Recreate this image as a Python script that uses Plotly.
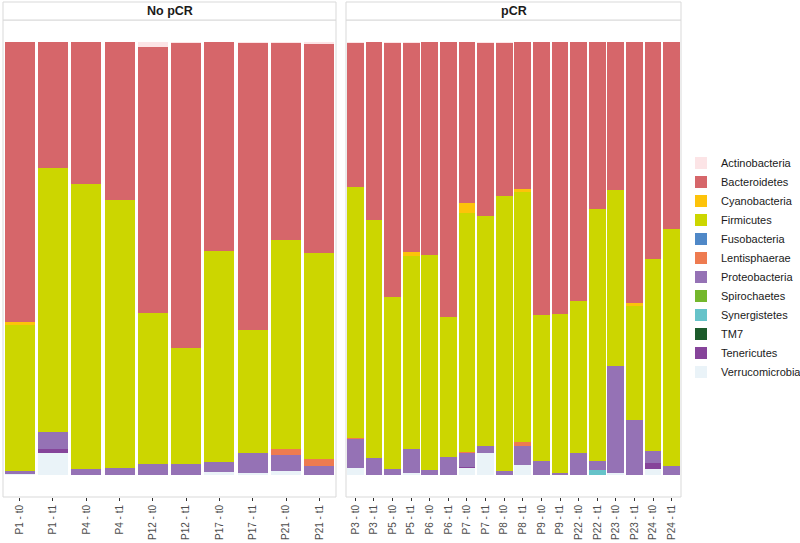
import plotly.graph_objects as go

# ---------------- data ----------------
samples_nopcr = ["P1 - t0", "P1 - t1", "P4 - t0", "P4 - t1", "P12 - t0", "P12 - t1",
                 "P17 - t0", "P17 - t1", "P21 - t0", "P21 - t1"]
samples_pcr = ["P3 - t0", "P3 - t1", "P5 - t0", "P5 - t1", "P6 - t0", "P6 - t1",
               "P7 - t0", "P7 - t1", "P8 - t0", "P8 - t1", "P9 - t0", "P9 - t1",
               "P22 - t0", "P22 - t1", "P23 - t0", "P23 - t1", "P24 - t0", "P24 - t1"]

phyla = ["Actinobacteria", "Bacteroidetes", "Cyanobacteria", "Firmicutes", "Fusobacteria",
         "Lentisphaerae", "Proteobacteria", "Spirochaetes", "Synergistetes", "TM7",
         "Tenericutes", "Verrucomicrobia"]

phylum_colors = ["#FCE4E6", "#D6666A", "#FDC30A", "#CCD600", "#4F88C7", "#EE7B50",
                 "#9572B5", "#74B72C", "#66C3C9", "#1C5B2B", "#86449A", "#EAF3F8"]

# relative abundance, No pCR samples (same order as samples_nopcr)
actinobacteria_nopcr  = [0.000, 0.000, 0.000, 0.000, 0.012, 0.002, 0.000, 0.002, 0.002, 0.005]
bacteroidetes_nopcr   = [0.647, 0.291, 0.328, 0.365, 0.614, 0.705, 0.483, 0.663, 0.455, 0.482]
cyanobacteria_nopcr   = [0.007, 0.000, 0.000, 0.000, 0.000, 0.000, 0.000, 0.000, 0.000, 0.000]
firmicutes_nopcr      = [0.335, 0.610, 0.658, 0.617, 0.349, 0.268, 0.487, 0.284, 0.483, 0.476]
fusobacteria_nopcr    = [0.000, 0.000, 0.000, 0.000, 0.000, 0.000, 0.000, 0.000, 0.000, 0.000]
lentisphaerae_nopcr   = [0.000, 0.000, 0.000, 0.000, 0.000, 0.000, 0.000, 0.000, 0.014, 0.016]
proteobacteria_nopcr  = [0.009, 0.039, 0.014, 0.018, 0.025, 0.025, 0.023, 0.046, 0.037, 0.021]
spirochaetes_nopcr    = [0.000, 0.000, 0.000, 0.000, 0.000, 0.000, 0.000, 0.000, 0.000, 0.000]
synergistetes_nopcr   = [0.000, 0.000, 0.000, 0.000, 0.000, 0.000, 0.000, 0.000, 0.000, 0.000]
tm7_nopcr             = [0.000, 0.000, 0.000, 0.000, 0.000, 0.000, 0.000, 0.000, 0.000, 0.000]
tenericutes_nopcr     = [0.000, 0.009, 0.000, 0.000, 0.000, 0.000, 0.000, 0.000, 0.000, 0.000]
verrucomicrobia_nopcr = [0.002, 0.051, 0.000, 0.000, 0.000, 0.000, 0.007, 0.005, 0.009, 0.000]

# relative abundance, pCR samples (same order as samples_pcr)
actinobacteria_pcr  = [0.002, 0.000, 0.002, 0.002, 0.000, 0.000, 0.000, 0.002, 0.002,
                       0.000, 0.000, 0.000, 0.000, 0.000, 0.000, 0.000, 0.000, 0.000]
bacteroidetes_pcr   = [0.333, 0.411, 0.587, 0.484, 0.492, 0.635, 0.372, 0.400, 0.354,
                       0.340, 0.631, 0.628, 0.598, 0.386, 0.342, 0.603, 0.501, 0.432]
cyanobacteria_pcr   = [0.000, 0.000, 0.000, 0.008, 0.000, 0.000, 0.023, 0.000, 0.000,
                       0.006, 0.000, 0.000, 0.000, 0.000, 0.000, 0.007, 0.000, 0.000]
firmicutes_pcr      = [0.580, 0.550, 0.397, 0.446, 0.496, 0.323, 0.552, 0.531, 0.633,
                       0.577, 0.337, 0.367, 0.351, 0.581, 0.406, 0.263, 0.444, 0.547]
fusobacteria_pcr    = [0.000] * 18
lentisphaerae_pcr   = [0.002, 0.000, 0.000, 0.000, 0.000, 0.000, 0.002, 0.000, 0.000,
                       0.010, 0.000, 0.000, 0.000, 0.000, 0.000, 0.000, 0.000, 0.000]
proteobacteria_pcr  = [0.067, 0.039, 0.014, 0.055, 0.012, 0.042, 0.032, 0.016, 0.011,
                       0.044, 0.032, 0.005, 0.051, 0.021, 0.247, 0.127, 0.027, 0.021]
spirochaetes_pcr    = [0.000] * 18
synergistetes_pcr   = [0.000, 0.000, 0.000, 0.000, 0.000, 0.000, 0.000, 0.000, 0.000,
                       0.000, 0.000, 0.000, 0.000, 0.012, 0.000, 0.000, 0.000, 0.000]
tm7_pcr             = [0.000] * 18
tenericutes_pcr     = [0.000, 0.000, 0.000, 0.000, 0.000, 0.000, 0.003, 0.000, 0.000,
                       0.000, 0.000, 0.000, 0.000, 0.000, 0.000, 0.000, 0.014, 0.000]
verrucomicrobia_pcr = [0.016, 0.000, 0.000, 0.005, 0.000, 0.000, 0.016, 0.051, 0.000,
                       0.023, 0.000, 0.000, 0.000, 0.000, 0.005, 0.000, 0.014, 0.000]

values_nopcr = [actinobacteria_nopcr, bacteroidetes_nopcr, cyanobacteria_nopcr, firmicutes_nopcr,
                fusobacteria_nopcr, lentisphaerae_nopcr, proteobacteria_nopcr, spirochaetes_nopcr,
                synergistetes_nopcr, tm7_nopcr, tenericutes_nopcr, verrucomicrobia_nopcr]
values_pcr = [actinobacteria_pcr, bacteroidetes_pcr, cyanobacteria_pcr, firmicutes_pcr,
              fusobacteria_pcr, lentisphaerae_pcr, proteobacteria_pcr, spirochaetes_pcr,
              synergistetes_pcr, tm7_pcr, tenericutes_pcr, verrucomicrobia_pcr]

panel_titles = ["No pCR", "pCR"]

# ---------------- figure ----------------
fig = go.Figure()

# plotly stacks in trace order (first = bottom); ggplot puts first level on top
for idx in reversed(range(len(phyla))):
    name = phyla[idx]
    col = phylum_colors[idx]
    fig.add_trace(go.Bar(x=samples_nopcr, y=values_nopcr[idx], name=name,
                         marker=dict(color=col, line=dict(width=0)),
                         legendgroup=name, showlegend=True, xaxis="x", yaxis="y"))
    fig.add_trace(go.Bar(x=samples_pcr, y=values_pcr[idx], name=name,
                         marker=dict(color=col, line=dict(width=0)),
                         legendgroup=name, showlegend=False, xaxis="x2", yaxis="y2"))

W, H = 800, 543
ml, mr, mt, mb = 3, 119, 20, 46
pw = W - ml - mr
ph = H - mt - mb
dom1 = [0, 333 / pw]
dom2 = [343 / pw, 1]

axis_common = dict(showgrid=False, zeroline=False, showline=False, automargin=False,
                   ticks="outside", ticklen=3, tickcolor="#333333", tickwidth=1,
                   tickangle=-90, tickfont=dict(size=10, color="#4D4D4D",
                                                family="Liberation Sans, Arial, sans-serif"),
                   type="category")
yaxis_common = dict(range=[-0.05, 1.05], showgrid=False, zeroline=False, showline=False,
                    showticklabels=False, ticks="", fixedrange=True, automargin=False)

strip_h = 18 / ph
shapes = []
annotations = []
for dom, title in zip([dom1, dom2], panel_titles):
    shapes.append(dict(type="rect", xref="paper", yref="paper", x0=dom[0], x1=dom[1],
                       y0=0, y1=1, line=dict(color="#D9D9D9", width=1),
                       fillcolor="rgba(0,0,0,0)", layer="above"))
    shapes.append(dict(type="rect", xref="paper", yref="paper", x0=dom[0], x1=dom[1],
                       y0=1, y1=1 + strip_h, line=dict(color="#D9D9D9", width=1),
                       fillcolor="white", layer="above"))
    annotations.append(dict(text="<b>" + title + "</b>", xref="paper", yref="paper",
                            x=(dom[0] + dom[1]) / 2, y=1 + strip_h / 2, showarrow=False,
                            xanchor="center", yanchor="middle",
                            font=dict(size=12.5, color="#1A1A1A",
                                      family="Liberation Sans, Arial, sans-serif")))

fig.update_layout(
    width=W, height=H,
    margin=dict(l=ml, r=mr, t=mt, b=mb, autoexpand=False),
    barmode="stack", bargap=0.1,
    plot_bgcolor="white", paper_bgcolor="white",
    xaxis=dict(domain=dom1, anchor="y", **axis_common),
    xaxis2=dict(domain=dom2, anchor="y2", **axis_common),
    yaxis=dict(domain=[0, 1], anchor="x", **yaxis_common),
    yaxis2=dict(domain=[0, 1], anchor="x2", **yaxis_common),
    shapes=shapes,
    annotations=annotations,
    legend=dict(traceorder="reversed", x=1.0, xanchor="left",
                y=0.481, yanchor="middle", bgcolor="rgba(0,0,0,0)",
                font=dict(size=11, color="#1A1A1A",
                          family="Liberation Sans, Arial, sans-serif"),
                itemclick=False, itemdoubleclick=False),
    showlegend=True,
    hovermode=False,
    font=dict(family="Liberation Sans, Arial, sans-serif"),
)

fig.write_html("out.html",
               config={"displayModeBar": False, "staticPlot": True},
               post_script="document.body.style.margin='0px';document.body.style.overflow='hidden';")
